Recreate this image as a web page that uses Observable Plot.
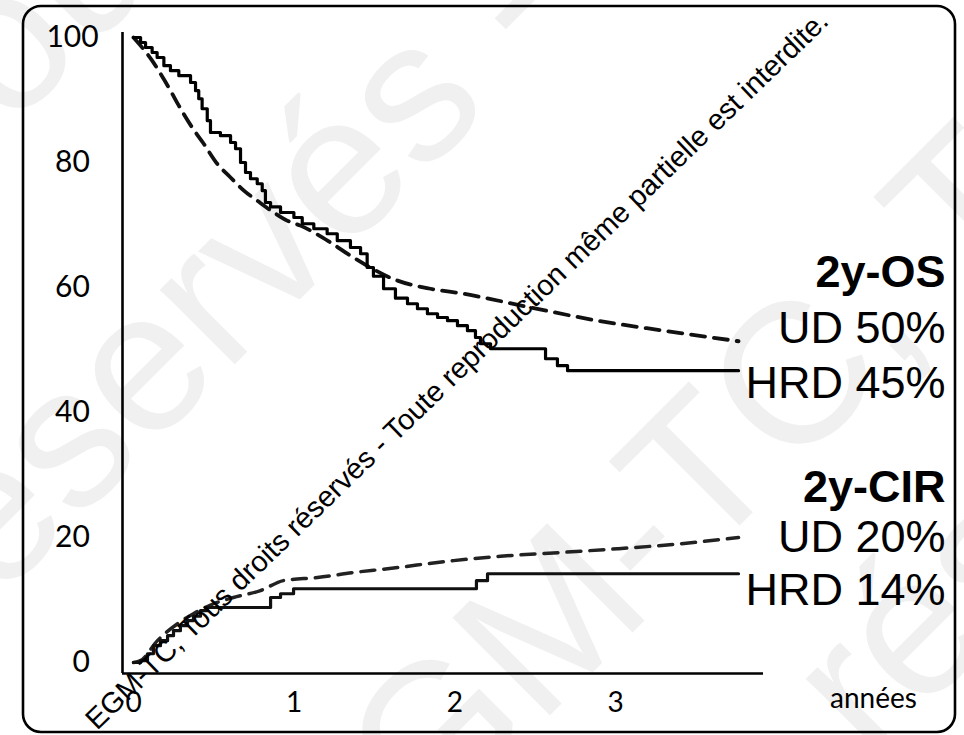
<!DOCTYPE html>
<html>
<head>
<meta charset="utf-8">
<script src="https://cdn.jsdelivr.net/npm/d3@7"></script>
<script src="https://cdn.jsdelivr.net/npm/@observablehq/plot@0.6"></script>
<style>
  html, body { margin: 0; padding: 0; background: #fff; }
  #wrap { position: relative; width: 964px; height: 735px; overflow: hidden; }
  #wrap > svg { position: absolute; left: 0; top: 0; }
  #under { z-index: 0; }
  #chart { position: absolute; left: 0; top: 0; z-index: 1; }
  #over { z-index: 2; pointer-events: none; }
</style>
</head>
<body>
<div id="wrap">
  <svg id="under" width="964" height="735"></svg>
  <div id="chart"></div>
  <svg id="over" width="964" height="735"></svg>
</div>
<script>
// ---- data (years, %) ----
// Overall survival, HRD (solid, Kaplan-Meier steps)
const osHRD_t = [0, 0.044, 0.075, 0.116, 0.147, 0.189, 0.230, 0.282, 0.355, 0.386, 0.406, 0.427, 0.459, 0.479, 0.541, 0.604, 0.635, 0.666, 0.697, 0.728, 0.770, 0.801, 0.821, 0.853, 0.915, 0.998, 1.050, 1.122, 1.205, 1.268, 1.350, 1.413, 1.454, 1.493, 1.556, 1.630, 1.705, 1.767, 1.829, 1.892, 1.954, 2.016, 2.078, 2.128, 2.159, 2.222, 2.564, 2.638, 2.701, 3.765];
const osHRD_v = [100, 99.2, 98.4, 97.6, 96.8, 95.5, 94.7, 93.9, 92.8, 91.5, 90.2, 88.6, 86.7, 84.8, 84.3, 83.2, 82.2, 80, 78.4, 77.4, 76.6, 75.5, 73.6, 72.9, 72, 71.2, 70.2, 69.4, 68.6, 67.5, 66.4, 65.4, 63.2, 61.8, 59.8, 58.3, 57.4, 56.6, 55.8, 55.2, 54.7, 53.9, 53.1, 52.0, 51.0, 50.2, 48.6, 47.5, 46.7, 46.7];
// Overall survival, UD (dashed)
const osUD_t = [0, 0.044, 0.116, 0.168, 0.230, 0.282, 0.365, 0.437, 0.521, 0.604, 0.687, 0.770, 0.873, 0.956, 1.039, 1.226, 1.350, 1.643, 1.848, 2.054, 2.470, 2.887, 3.298, 3.765];
const osUD_v = [100, 98.7, 96.3, 94.2, 91.5, 89.1, 85.6, 83, 79.8, 77.6, 75.5, 73.9, 72, 70.7, 69.9, 67.2, 65.1, 61.1, 59.8, 59, 56.8, 54.7, 53.1, 51.4];
// Cumulative incidence of relapse, HRD (solid steps)
const cirHRD_t = [0, 0.044, 0.087, 0.124, 0.168, 0.212, 0.249, 0.292, 0.336, 0.373, 0.417, 0.460, 0.853, 0.915, 0.996, 2.134, 2.203, 3.765];
const cirHRD_v = [0, 0.3, 1.4, 2.7, 3.5, 4.3, 5.1, 5.9, 6.7, 7.4, 8.3, 8.8, 10.4, 11, 11.8, 13.1, 14.2, 14.2];
// Cumulative incidence of relapse, UD (dashed)
const cirUD_t = [0, 0.044, 0.149, 0.274, 0.373, 0.498, 0.622, 0.790, 0.933, 1.145, 1.369, 1.581, 1.991, 2.284, 2.657, 3.012, 3.404, 3.765];
const cirUD_v = [0, 0.3, 3.5, 6.2, 7.8, 9.4, 10.4, 11.5, 13.1, 13.6, 14.4, 15, 16.3, 17, 17.6, 18.2, 19, 20];

const xTicks = [0, 1, 2, 3];
const yTicks = [0, 20, 40, 60, 80, 100];
const xAxisTitle = "années";
const annotationTexts = ["2y-OS", "UD 50%", "HRD 45%", "2y-CIR", "UD 20%", "HRD 14%"];
const watermarkText = "EGM-TC, Tous droits réservés - Toute reproduction même partielle est interdite.";

// ---- build tables ----
const toRows = (ts, vs) => ts.map((t, i) => ({t, v: vs[i]}));
const osHRD = toRows(osHRD_t, osHRD_v);
const osUD = toRows(osUD_t, osUD_v);
const cirHRD = toRows(cirHRD_t, cirHRD_v);
const cirUD = toRows(cirUD_t, cirUD_v);

// annotation layout (vertical position in y units, bold headers)
const annYs = [62.4, 53.4, 44.6, 28.0, 20.0, 11.5];
const annotations = annotationTexts.map((text, i) => ({text, y: annYs[i], bold: i % 3 === 0}));

const xDomain = [-11 / 160.7, 630 / 160.7];
const yDomain = [-1.76, 100.8];

const chart = Plot.plot({
  width: 964,
  height: 735,
  marginLeft: 122,
  marginRight: 201,
  marginTop: 32,
  marginBottom: 62,
  style: {background: "transparent", fontFamily: "Lato, 'Open Sans', sans-serif", color: "#000", overflow: "visible"},
  x: {domain: xDomain},
  y: {domain: yDomain},
  marks: [
    Plot.ruleX([xDomain[0]], {stroke: "#000", strokeWidth: 2.6}),
    Plot.ruleY([yDomain[0]], {stroke: "#000", strokeWidth: 2.6}),
    Plot.axisY({ticks: yTicks, tickSize: 0, tickPadding: 50, textAnchor: "middle", fontSize: 30, label: null,
      tickFormat: d => d === 0 ? "\u20070" : String(d)}),
    Plot.axisX({ticks: xTicks, tickSize: 0, tickPadding: 19, fontSize: 28, label: null, tickFormat: d => String(d)}),
    Plot.line(osUD, {x: "t", y: "v", curve: "monotone-x", stroke: "#111", strokeWidth: 3.8, strokeDasharray: "14,9"}),
    Plot.line(osHRD, {x: "t", y: "v", curve: "step-after", stroke: "#000", strokeWidth: 3.2}),
    Plot.line(cirUD, {x: "t", y: "v", curve: "monotone-x", stroke: "#222", strokeWidth: 3.5, strokeDasharray: "14,9"}),
    Plot.line(cirHRD, {x: "t", y: "v", curve: "step-after", stroke: "#111", strokeWidth: 3.2}),
    Plot.text(annotations.filter(d => d.bold), {frameAnchor: "right", y: "y", text: "text", dx: 182, textAnchor: "end",
      fontFamily: "'Liberation Sans', Arial, sans-serif", fontSize: 45, fontWeight: "bold", fill: "#000"}),
    Plot.text(annotations.filter(d => !d.bold), {frameAnchor: "right", y: "y", text: "text", dx: 182, textAnchor: "end",
      fontFamily: "'Liberation Sans', Arial, sans-serif", fontSize: 45, fill: "#000"}),
    Plot.text([xAxisTitle], {frameAnchor: "bottom-right", text: d => d, dx: 110, dy: 34, textAnchor: "middle",
      fontFamily: "Lato, 'Open Sans', sans-serif", fontSize: 28, fill: "#000"})
  ]
});
document.getElementById("chart").appendChild(chart);

// ---- decoration: faint big watermark underneath, border + diagonal notice on top ----
const NS = "http://www.w3.org/2000/svg";
function addText(svg, str, x, y, rot, opts) {
  const t = document.createElementNS(NS, "text");
  t.setAttribute("transform", `translate(${x},${y}) rotate(${rot})`);
  for (const k in opts) t.setAttribute(k, opts[k]);
  t.textContent = str;
  svg.appendChild(t);
}
const under = document.getElementById("under");
const wm = {"font-family": "'Liberation Sans', Arial, sans-serif", "font-size": 200, fill: "#f0f0f0"};
addText(under, "réservés - CGM-TC", -50, 649, -45, wm);
addText(under, "Tous droits réservés - ", 326, 939, -45, {...wm, "text-anchor": "end"});
addText(under, "CGM-TC, Tous droits réservés", 326, 939, -45, wm);
addText(under, "réservés", 871, 763, -45, wm);
addText(under, "CGM-TC, Tous droits ", -40, 180, -45, {...wm, "text-anchor": "middle"});

const over = document.getElementById("over");
const rect = document.createElementNS(NS, "rect");
rect.setAttribute("x", 23); rect.setAttribute("y", 6);
rect.setAttribute("width", 932); rect.setAttribute("height", 726);
rect.setAttribute("rx", 18); rect.setAttribute("ry", 18);
rect.setAttribute("fill", "none"); rect.setAttribute("stroke", "#000"); rect.setAttribute("stroke-width", 2.6);
over.appendChild(rect);
addText(over, watermarkText, 97, 731, -44.0, {"font-family": "'Liberation Sans', Arial, sans-serif", "font-size": 29, fill: "#000"});
</script>
</body>
</html>
